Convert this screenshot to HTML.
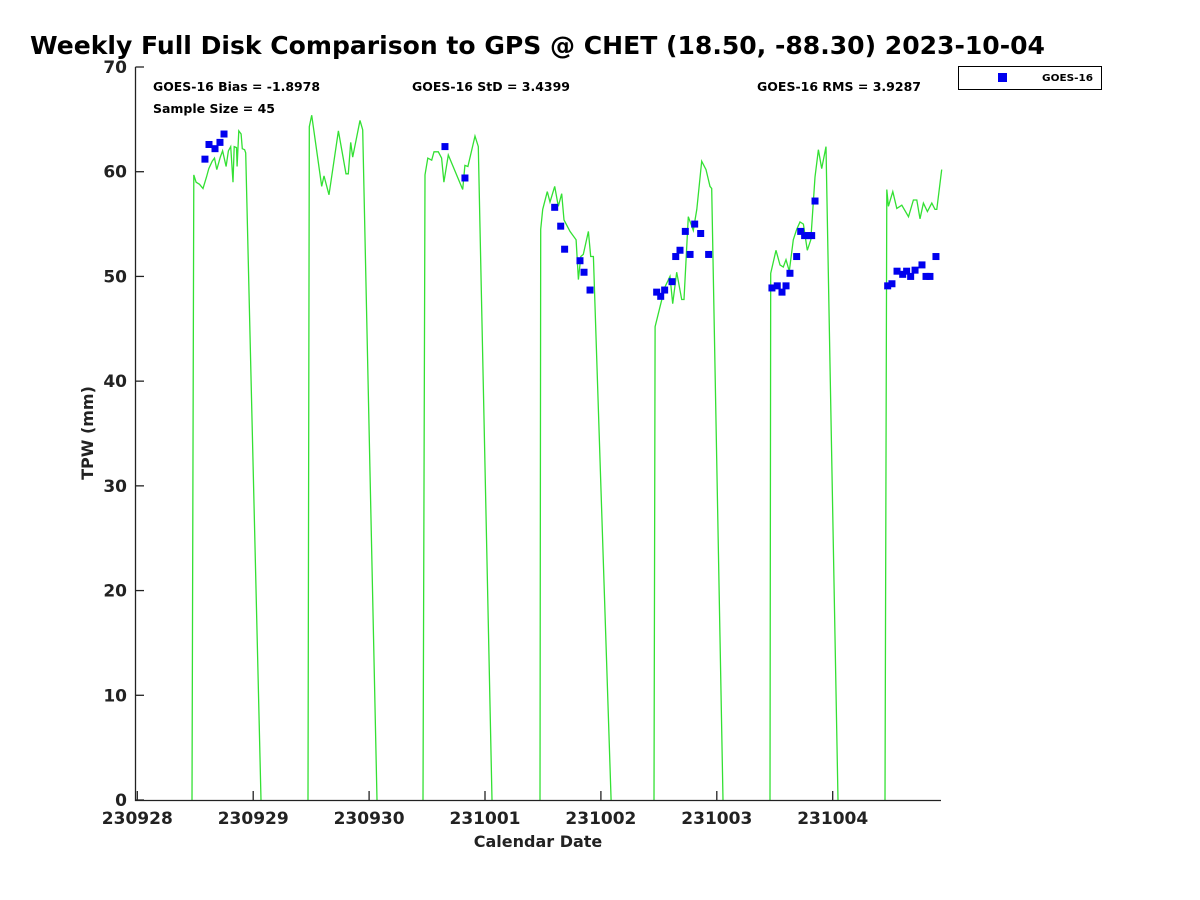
<!DOCTYPE html>
<html><head><meta charset="utf-8"><style>
body{margin:0;background:#fff;}
svg{display:block;font-family:"DejaVu Sans","Liberation Sans",sans-serif;}
</style></head><body>
<svg width="1200" height="900" id="chart">
<rect width="1200" height="900" fill="#fff"/>
<text x="30" y="54" font-size="25" font-weight="bold" fill="#000" textLength="1015" lengthAdjust="spacingAndGlyphs">Weekly Full Disk Comparison to GPS @ CHET (18.50, -88.30) 2023-10-04</text>
<text x="153" y="91" font-size="12" font-weight="bold" textLength="167" lengthAdjust="spacingAndGlyphs">GOES-16 Bias = -1.8978</text>
<text x="153" y="113" font-size="12" font-weight="bold" textLength="122" lengthAdjust="spacingAndGlyphs">Sample Size = 45</text>
<text x="412" y="91" font-size="12" font-weight="bold" textLength="158" lengthAdjust="spacingAndGlyphs">GOES-16 StD = 3.4399</text>
<text x="757" y="91" font-size="12" font-weight="bold" textLength="164" lengthAdjust="spacingAndGlyphs">GOES-16 RMS = 3.9287</text>
<g>
<rect x="958.5" y="66.5" width="143" height="23" fill="#fff" stroke="#000"/>
<rect x="998" y="73" width="9" height="9" fill="#0000ee"/>
<text x="1042" y="81" font-size="10" font-weight="bold" textLength="51" lengthAdjust="spacingAndGlyphs">GOES-16</text>
</g>
<g id="plot"></g>
<text transform="translate(93,433) rotate(-90)" text-anchor="middle" font-size="16" font-weight="bold" fill="#222">TPW (mm)</text>
<text x="538" y="847" text-anchor="middle" font-size="16" font-weight="bold" fill="#222">Calendar Date</text>
</svg>
<script>
const xTickLabels=["230928","230929","230930","231001","231002","231003","231004"];
const yTicks=[0,10,20,30,40,50,60,70];
const lineT=[0.485,0.50,0.52,0.55,0.58,0.61,0.63,0.66,0.68,0.70,0.73,0.75,0.78,0.80,0.82,0.84,0.85,0.87,0.875,0.89,0.91,0.92,0.94,0.95,0.96,1.082,
1.489,1.50,1.521,1.608,1.628,1.671,1.752,1.818,1.838,1.859,1.876,1.939,1.963,2.087,
2.485,2.502,2.526,2.56,2.58,2.617,2.646,2.666,2.704,2.829,2.848,2.874,2.935,2.964,3.082,
3.498,3.504,3.521,3.561,3.584,3.625,3.656,3.686,3.706,3.758,3.81,3.83,3.851,3.873,3.917,3.937,3.96,4.113,
4.485,4.494,4.537,4.580,4.623,4.647,4.681,4.725,4.745,4.782,4.825,4.855,4.898,4.935,4.970,4.984,5.082,
5.489,5.495,5.541,5.576,5.604,5.628,5.656,5.691,5.720,5.749,5.778,5.812,5.842,5.879,5.908,5.937,5.974,6.078,
6.485,6.5,6.514,6.552,6.587,6.630,6.688,6.731,6.760,6.788,6.817,6.852,6.890,6.918,6.933,6.976];
const lineV=[0,59.7,59.0,58.8,58.4,59.5,60.3,61.0,61.3,60.2,61.4,62.0,60.5,62.0,62.4,59.0,62.4,62.3,60.5,63.9,63.6,62.2,62.1,61.8,57,0,
0,64.3,65.4,58.6,59.6,57.8,63.9,59.8,59.8,62.8,61.4,64.9,64.0,0,
0,59.7,61.3,61.1,61.9,61.9,61.3,59.0,61.6,58.3,60.6,60.5,63.4,62.4,0,
0,54.5,56.4,58.1,57.1,58.6,56.7,57.9,55.4,54.3,53.5,49.7,51.9,52.1,54.3,51.9,51.9,0,
0,45.2,47.1,49.0,50.0,47.4,50.4,47.8,47.8,55.7,54.4,56.4,61.0,60.2,58.6,58.4,0,
0,50.3,52.5,51.1,50.9,51.6,50.5,53.5,54.5,55.2,55.0,52.5,53.5,59.5,62.1,60.3,62.4,0,
0,58.3,56.7,58.1,56.5,56.8,55.7,57.3,57.3,55.5,57.0,56.2,57.0,56.4,56.4,60.2];
const ptT=[0.597,0.632,0.684,0.727,0.762,2.675,2.848,3.625,3.677,3.711,3.844,3.879,3.931,4.508,4.543,4.577,4.641,4.673,4.710,4.756,4.797,4.837,4.889,4.958,5.506,5.552,5.593,5.628,5.662,5.720,5.755,5.789,5.824,5.850,5.879,6.508,6.545,6.589,6.638,6.672,6.707,6.745,6.805,6.840,6.874,6.926];
const ptV=[61.2,62.6,62.2,62.8,63.6,62.4,59.4,56.6,54.8,52.6,51.5,50.4,48.7,48.5,48.1,48.7,49.5,51.9,52.5,54.3,52.1,55.0,54.1,52.1,48.9,49.1,48.5,49.1,50.3,51.9,54.3,53.9,53.9,53.9,57.2,49.1,49.3,50.5,50.2,50.5,50.0,50.6,51.1,50.0,50.0,51.9];
const X0=136,XS=115.5,Y0=800,YS=733/70;
const xs=d=>X0+d*XS, ys=v=>Y0-v*YS;
const NS="http://www.w3.org/2000/svg";
const g=document.getElementById('plot');
function mk(t,a){const e=document.createElementNS(NS,t);for(const k in a)e.setAttribute(k,a[k]);g.appendChild(e);return e;}
let dstr="";
for(let i=0;i<lineT.length;i++){
  const brk=i>0&&lineV[i]===0&&lineV[i-1]===0;
  dstr+=(i===0||brk?"M":"L")+xs(lineT[i]).toFixed(1)+","+ys(lineV[i]).toFixed(1);
}
const ln=mk('path',{d:dstr,fill:'none',stroke:'#33e033','stroke-width':1.3});


for(let i=0;i<ptT.length;i++){
  const r=mk('rect',{x:xs(ptT[i])-3.5,y:ys(ptV[i])-3.5,width:7,height:7,fill:'#0000ee'});
  
  
}
const ax=mk('path',{d:`M135.5,${ys(70)}V800.5H941`,fill:'none',stroke:'#222','stroke-width':1.3});


yTicks.forEach(v=>{
  const t=mk('line',{x1:135.5,x2:144,y1:ys(v),y2:ys(v),stroke:'#222','stroke-width':1.3});
  
  
  const l=mk('text',{x:127,y:ys(v)+6,'text-anchor':'end','font-size':17,'font-weight':'bold',fill:'#222'});
  l.textContent=v;
  
  
});
xTickLabels.forEach((s,i)=>{
  const px=137.3+i*115.9;
  const t=mk('line',{x1:px,x2:px,y1:800,y2:791,stroke:'#222','stroke-width':1.3});
  
  
  const l=mk('text',{x:px,y:824,'text-anchor':'middle','font-size':17,'font-weight':'bold',fill:'#222'});
  l.textContent=s;
  
  
});
</script>
</body></html>
